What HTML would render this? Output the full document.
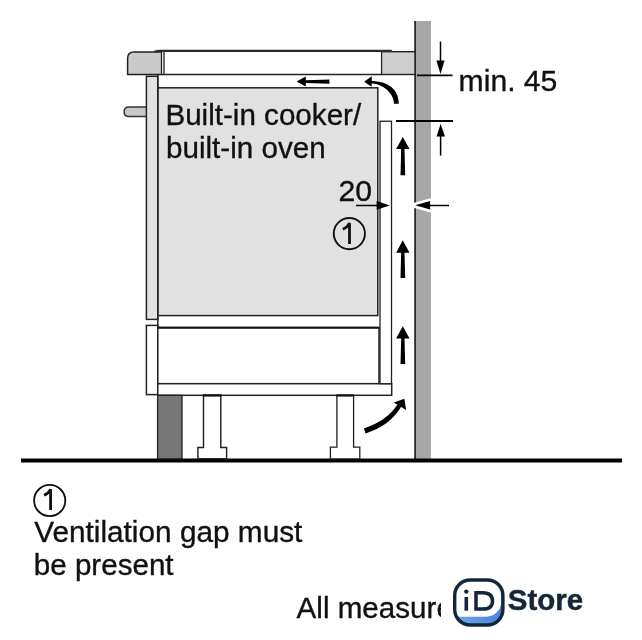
<!DOCTYPE html>
<html><head><meta charset="utf-8">
<style>
html,body{margin:0;padding:0;background:#fff;width:642px;height:640px;overflow:hidden}
body>svg{position:absolute;left:0;top:0;will-change:transform}
text{font-family:"Liberation Sans",sans-serif;fill:#111;stroke:#111;stroke-width:0.35px}
</style></head><body>
<svg width="642" height="640" viewBox="0 0 642 640" xmlns="http://www.w3.org/2000/svg">
<!-- wall -->
<rect x="415" y="21" width="16" height="438" fill="#a7a7a7"/>
<rect x="414.2" y="21" width="1.8" height="438" fill="#2a2a2a"/>
<!-- floor -->
<rect x="21" y="458.5" width="601" height="4" fill="#000"/>

<!-- countertop left block -->
<path d="M127.6 74.5 V58.3 Q127.6 51.9 134 51.9 H162 V74.5 Z" fill="#cacaca" stroke="#222" stroke-width="1.5"/>
<!-- countertop right block -->
<rect x="381.5" y="51.7" width="33.5" height="22.8" fill="#cfcfcf" stroke="#222" stroke-width="1.4"/>
<!-- cooktop -->
<rect x="162" y="51" width="218.7" height="23.5" fill="#fff"/>
<path d="M154.5 51.8 Q157 50.8 160 50.8 H391.8" fill="none" stroke="#2a2a2a" stroke-width="2.3"/>
<line x1="161.5" y1="51" x2="161.5" y2="74.5" stroke="#222" stroke-width="1.3"/>
<line x1="164" y1="51" x2="164" y2="74.5" stroke="#333" stroke-width="1.4"/>
<line x1="162" y1="74.4" x2="381.5" y2="74.4" stroke="#222" stroke-width="1.5"/>

<!-- handle -->
<path d="M146.6 106.9 H129 Q124.1 106.9 124.1 111.75 Q124.1 116.6 129 116.6 H146.6" fill="#c8c8c8" stroke="#333" stroke-width="1.5"/>

<!-- upper side panel -->
<rect x="146.4" y="76.3" width="11.4" height="243.1" fill="#e2e2e2" stroke="#222" stroke-width="1.5"/>
<!-- body -->
<rect x="157.8" y="87.8" width="220" height="227.8" fill="#e1e1e1" stroke="#222" stroke-width="1.5"/>
<line x1="157.8" y1="74.5" x2="157.8" y2="395" stroke="#222" stroke-width="1.5"/>
<!-- lower side panel -->
<rect x="146.4" y="325.4" width="11.4" height="69.2" fill="#fff" stroke="#222" stroke-width="1.5"/>
<!-- drawer -->
<rect x="157.8" y="327.5" width="221.2" height="56.2" fill="#fff" stroke="#222" stroke-width="1.5"/>
<line x1="157.8" y1="327.8" x2="379" y2="327.8" stroke="#111" stroke-width="2"/>
<!-- base strip -->
<rect x="157.8" y="383.7" width="233.9" height="11.6" fill="#fff" stroke="#222" stroke-width="1.5"/>
<!-- thin panel -->
<rect x="380" y="121.25" width="11.5" height="262.45" fill="#fff" stroke="#222" stroke-width="1.3"/>

<!-- plinth -->
<rect x="157.6" y="395.3" width="24.4" height="63.5" fill="#777777" stroke="#222" stroke-width="1.3"/>
<!-- feet -->
<path d="M203.5 395.3 V447.4 H197.9 V458.8 H226.6 V447.4 H220.8 V395.3 Z" fill="#fff" stroke="#222" stroke-width="1.45"/>
<path d="M336.9 395.3 V447.2 H330.4 V458.8 H359.8 V447.2 H353.6 V395.3 Z" fill="#fff" stroke="#222" stroke-width="1.3"/>

<line x1="203" y1="395.5" x2="221.5" y2="395.5" stroke="#111" stroke-width="2.2"/>
<line x1="336.3" y1="395.5" x2="354.2" y2="395.5" stroke="#111" stroke-width="2.2"/>

<!-- airflow arrows -->
<g fill="#000">
  <!-- top left arrow -->
  <path d="M296.6 81.6 L305.8 76.6 V80.3 L329.4 79.5 V83.7 L305.8 82.9 V86.5 Z"/>
  <!-- up arrows -->
  <path d="M402.8 137 L409.5 148.9 H404.5 L405.2 175.3 H400.5 L401.2 148.9 H396.1 Z"/>
  <path d="M402.8 240.2 L409.5 252.7 H404.5 L405.2 278 H400.5 L401.2 252.7 H396.1 Z"/>
  <path d="M402.8 326.3 L409.5 338.4 H404.5 L405.2 364.1 H400.5 L401.2 338.4 H396.1 Z"/>
</g>
<!-- curved arrow top -->
<path d="M371 80.9 C388.5 80.9 398.8 89.5 398.8 103.8 L394 103.8 C394 93.8 383 83.6 371 83.6 Z" fill="#000"/>
<path d="M364.1 81.8 L371.8 76.3 L371.6 86.8 Z" fill="#000"/>
<!-- curved arrow bottom -->
<path d="M363.9 428.4 Q387 421 397.6 404.3 L401.3 406.6 Q390 426 365.5 433.4 Z" fill="#000"/>
<path d="M404.4 398.8 L393.8 402.4 L406.1 409.9 Z" fill="#000"/>

<!-- dimension min 45 -->
<line x1="417" y1="75.4" x2="452.5" y2="75.4" stroke="#000" stroke-width="1.9"/>
<line x1="440.5" y1="41.5" x2="440.5" y2="61" stroke="#000" stroke-width="1.5"/>
<path d="M440.5 74 L436.4 60.6 H444.6 Z" fill="#000"/>
<line x1="396" y1="121" x2="453" y2="121" stroke="#000" stroke-width="1.8"/>
<line x1="440.6" y1="136" x2="440.6" y2="155.6" stroke="#000" stroke-width="1.5"/>
<path d="M440.6 124 L436.5 136.5 H445 Z" fill="#000"/>

<!-- dimension 20 -->
<line x1="356" y1="205.5" x2="378" y2="205.5" stroke="#000" stroke-width="1.5"/>
<path d="M389.8 205.4 L376.6 201 V209.8 Z" fill="#000"/>
<path d="M415.1 205.3 L430.1 201.1 V209.6 Z" fill="#fff" stroke="#fff" stroke-width="5.4" stroke-linejoin="round"/>
<rect x="431" y="195" width="4" height="20" fill="#fff"/>
<line x1="428" y1="205.5" x2="449" y2="205.5" stroke="#000" stroke-width="1.5"/>
<path d="M415.1 205.3 L430.1 201.1 V209.6 Z" fill="#000"/>

<!-- circle 1 -->
<circle cx="349.35" cy="233.6" r="15.6" fill="none" stroke="#111" stroke-width="1.9"/>
<path d="M349.5 244 V223 Q347.5 227.5 342.8 229.2" fill="none" stroke="#111" stroke-width="2.8"/>
<circle cx="49.7" cy="500.5" r="15.6" fill="none" stroke="#111" stroke-width="1.9"/>
<path d="M50.6 510 V489.3 Q48.5 493.5 44 495.3" fill="none" stroke="#111" stroke-width="2.8"/>

<!-- texts -->
<text x="165.4" y="125.2" font-size="30" textLength="195.8" lengthAdjust="spacingAndGlyphs">Built-in cooker/</text>
<text x="166" y="158.1" font-size="30" textLength="159.77" lengthAdjust="spacingAndGlyphs">built-in oven</text>
<text x="338.4" y="200.6" font-size="30" textLength="33.58" lengthAdjust="spacingAndGlyphs">20</text>
<text x="458.6" y="91.2" font-size="30" textLength="98.79" lengthAdjust="spacingAndGlyphs">min. 45</text>
<text x="34.2" y="542" font-size="30" textLength="268.19" lengthAdjust="spacingAndGlyphs">Ventilation gap must</text>
<text x="33.8" y="575.4" font-size="30" textLength="139.78" lengthAdjust="spacingAndGlyphs">be present</text>
<svg x="0" y="570" width="441" height="70" overflow="hidden">
<text x="296.6" y="47.6" font-size="30" textLength="156.3" lengthAdjust="spacingAndGlyphs">All measure</text>
</svg>

<!-- logo -->
<rect x="441" y="572" width="160" height="62" fill="#fff"/>
<defs>
<linearGradient id="bl" x1="0" y1="0" x2="1" y2="0">
<stop offset="0" stop-color="#7aaaf0"/><stop offset="1" stop-color="#3f7fdc"/>
</linearGradient>
<clipPath id="lc"><rect x="454.7" y="580" width="48.2" height="45" rx="15.5"/></clipPath>
</defs>
<g clip-path="url(#lc)">
<rect x="450" y="575" width="60" height="55" fill="url(#bl)"/>
<rect x="446" y="570" width="55.2" height="46.7" rx="15" fill="#fff"/>
</g>
<rect x="454.7" y="580" width="48.2" height="45" rx="15.5" fill="none" stroke="#14263a" stroke-width="3.4"/>
<circle cx="466.3" cy="591.6" r="2.2" fill="#14263a"/>
<rect x="464.5" y="597" width="3.6" height="13.7" fill="#14263a"/>
<path d="M476 592.7 H483 Q492.5 592.7 492.5 601 Q492.5 609.1 483 609.1 H476 Z" fill="none" stroke="#14263a" stroke-width="3.5"/>
<text x="507.8" y="610.4" font-size="30" font-weight="bold" style="fill:#14263a;stroke:#14263a;stroke-width:0.5px" textLength="75.29" lengthAdjust="spacingAndGlyphs">Store</text>
</svg>
</body></html>
